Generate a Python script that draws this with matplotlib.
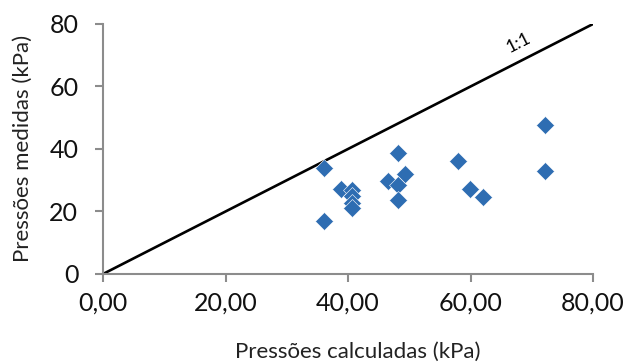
import matplotlib.pyplot as plt

# pressures (kPa)
calc = [36.1, 36.1, 38.9, 40.6, 40.6, 40.6, 40.6, 46.5, 48.2, 48.2, 48.2, 49.3,
        58.0, 59.9, 62.0, 72.2, 72.2]
meas = [33.9, 17.0, 27.2, 26.9, 24.8, 22.7, 21.1, 29.8, 38.7, 28.5, 23.8, 32.0,
        36.2, 27.2, 24.7, 47.7, 33.0]
ref_line = [0, 80]
xticks = [0, 20, 40, 60, 80]
yticks = [0, 20, 40, 60, 80]

plt.rcParams['font.family'] = ['Lato', 'DejaVu Sans']

fig = plt.figure(figsize=(6.3, 3.63), dpi=100)
ax = fig.add_axes([0.1635, 0.2452, 0.7778, 0.6887])

ax.plot(ref_line, ref_line, color="black", lw=1.9, zorder=2)
ax.plot(calc, meas, "D", color="#2E6DB2", ms=9.5, mec="white", mew=0.4, zorder=3)
ax.text(67.8, 74.0, "1:1", rotation=27, fontsize=13, ha="center", va="center")

ax.set_xlim(0, 80)
ax.set_ylim(0, 80)
ax.set_xticks(xticks)
ax.set_xticklabels([("%.2f" % v).replace(".", ",") for v in xticks])
ax.set_yticks(yticks)

for s in ["top", "right"]:
    ax.spines[s].set_visible(False)
for s in ["left", "bottom"]:
    ax.spines[s].set_color("#8c8c8c")
    ax.spines[s].set_linewidth(1.5)
ax.tick_params(direction="out", length=5.8, width=1.5, color="#8c8c8c",
               labelsize=18, labelcolor="#111111")
ax.tick_params(axis="x", pad=7)
ax.tick_params(axis="y", pad=12)

ax.set_xlabel("Pressões calculadas (kPa)", fontsize=16, color="#222222")
ax.set_ylabel("Pressões medidas (kPa)", fontsize=16, color="#222222")
ax.xaxis.set_label_coords(0.519, -0.272)
ax.yaxis.set_label_coords(-0.143, 0.502)

fig.savefig("out.png", dpi=100)
